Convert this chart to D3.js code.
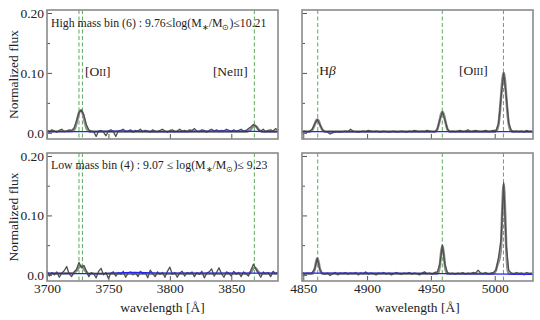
<!DOCTYPE html>
<html><head><meta charset="utf-8">
<script src="https://cdn.jsdelivr.net/npm/d3@7"></script>
<style>
body{margin:0;background:#fff}
svg{display:block}
</style>
</head><body>
<svg id="chart" width="540" height="320"></svg>
<script>
// ---------------- DATA ----------------
// wavelength sampling of the spectra (Angstrom)
const blueStart = 3700, blueEnd = 3888, redStart = 4849, redEnd = 5029, stepA = 2;
const blueDomain = [3700, 3888];
const redDomain = [4849, 5030];
const fluxDomain = [-0.0103, 0.205];
const blueTicks = [3700, 3750, 3800, 3850];
const redTicks = [4850, 4900, 4950, 5000];
const fluxTicks = [0.0, 0.10, 0.20];
const fluxTickLabels = ["0.0", "0.10", "0.20"];
const fluxMinorTicks = [0.05, 0.15];

// emission line rest wavelengths
const blueLines = [3726.03, 3728.82, 3868.76];
const redLines = [4861.33, 4958.91, 5006.84];
const lineLabelsBlue = [{w: 3731, main: ["[O", "II", "]"]}, {w: 3835, main: ["[Ne", "III", "]"]}];
const lineLabelsRed = [{w: 4862.5, main: ["H", "β", ""]}, {w: 4972, main: ["[O", "III", "]"]}];

// High mass bin (6), blue side: observed stack, lambda = 3700 + 2i
const fluxHighBlue = [
 0.004, 0.002, 0.005, 0.003, 0.001, 0.004, 0.006, 0.002, 0.003, 0.005,
 0.004, 0.008, 0.020, 0.034, 0.038, 0.030, 0.014, 0.005, 0.003, 0.002,
 -0.006, 0.003, 0.004, 0.001, -0.005, 0.003, 0.005, 0.002, -0.006, 0.003,
 0.004, 0.006, 0.002, 0.003, 0.005, 0.001, 0.004, 0.003, 0.006, 0.002,
 0.004, 0.003, 0.001, 0.005, 0.003, 0.002, 0.004, 0.006, 0.003, 0.001,
 0.004, 0.005, 0.002, 0.003, 0.006, 0.003, 0.004, 0.002, 0.005, 0.004,
 0.007, 0.003, 0.002, 0.005, 0.004, 0.001, 0.004, 0.006, 0.003, 0.005,
 0.002, 0.004, 0.003, 0.006, 0.004, 0.002, 0.005, 0.003, 0.004, 0.006,
 0.003, 0.004, 0.007, 0.010, 0.014, 0.011, 0.005, 0.003, 0.006, 0.002,
 0.004, 0.005, 0.003, 0.007, 0.004
];
// High mass bin (6), red side: lambda = 4849 + 2i
const fluxHighRed = [
 0.002, 0.003, 0.001, 0.003, 0.006, 0.015, 0.022, 0.014, 0.005, 0.002,
 0.001, -0.002, 0.000, 0.001, 0.002, 0.001, 0.002, 0.003, 0.002, 0.006,
 0.003, 0.002, 0.001, 0.002, 0.003, 0.002, 0.004, 0.003, 0.002, 0.003,
 0.002, 0.001, 0.003, 0.002, 0.001, 0.002, 0.003, 0.001, 0.002, 0.003,
 0.002, 0.001, 0.003, 0.002, 0.004, 0.003, 0.002, 0.003, 0.002, 0.004,
 0.003, 0.002, 0.002, 0.006, 0.022, 0.035, 0.022, 0.006, 0.002, 0.003,
 0.002, 0.003, 0.004, 0.002, 0.003, 0.005, 0.002, 0.003, 0.004, 0.003,
 0.002, 0.003, 0.004, 0.002, 0.003, 0.004, 0.004, 0.015, 0.060, 0.100,
 0.062, 0.016, 0.004, 0.002, 0.003, 0.002, 0.003, 0.001, 0.004, 0.002,
 0.003
];
// Low mass bin (4), blue side
const fluxLowBlue = [
 0.006, -0.002, 0.004, 0.000, 0.005, -0.004, 0.003, 0.007, 0.014, 0.002,
 -0.003, 0.005, 0.009, 0.021, 0.012, 0.016, 0.007, -0.003, 0.004, 0.002,
 -0.005, 0.006, 0.011, 0.000, 0.004, -0.006, 0.003, 0.005, -0.002, 0.004,
 0.001, 0.006, -0.004, 0.003, 0.005, 0.000, 0.004, -0.003, 0.006, 0.002,
 0.004, -0.005, 0.008, 0.002, -0.003, 0.005, 0.001, 0.004, -0.004, 0.006,
 0.013, 0.001, 0.004, -0.004, 0.003, 0.006, -0.002, 0.004, 0.002, 0.005,
 -0.003, 0.004, 0.001, 0.006, -0.005, 0.003, 0.005, 0.010, -0.002, 0.004,
 0.012, 0.002, -0.004, 0.005, 0.003, -0.002, 0.006, 0.001, 0.004, -0.003,
 0.005, 0.002, -0.002, 0.008, 0.018, 0.010, 0.003, -0.004, 0.005, 0.002,
 0.004, -0.003, 0.006, 0.002, 0.005
];
// Low mass bin (4), red side
const fluxLowRed = [
 0.004, 0.001, 0.003, 0.002, 0.004, 0.010, 0.028, 0.009, 0.003, 0.001,
 0.003, -0.001, 0.002, 0.004, 0.000, 0.003, 0.002, 0.004, 0.001, 0.003,
 0.002, 0.004, 0.000, 0.003, 0.002, 0.005, 0.001, 0.003, 0.002, 0.000,
 0.003, 0.002, 0.004, 0.001, 0.003, 0.000, 0.002, 0.004, 0.002, 0.001,
 0.003, 0.002, 0.004, 0.001, 0.003, 0.002, 0.000, 0.003, 0.005, 0.002,
 0.003, 0.001, 0.004, 0.005, 0.018, 0.050, 0.017, 0.004, 0.002, 0.003,
 0.001, 0.003, 0.002, 0.004, 0.001, 0.003, 0.002, 0.004, 0.003, 0.008,
 0.003, 0.002, 0.004, 0.001, 0.003, 0.004, 0.008, 0.030, 0.060, 0.155,
 0.050, 0.008, 0.003, 0.001, 0.004, 0.002, 0.003, 0.000, 0.004, 0.002,
 0.003
];

// Line-fit models [wavelength, flux]
const fitHighBlue = [[3700,0.002],[3721,0.003],[3722,0.005],[3723,0.009],[3724,0.016],[3725,0.025],[3726,0.033],[3727,0.037],[3728,0.037],[3729,0.033],[3730,0.025],[3731,0.016],[3732,0.009],[3733,0.005],[3734,0.003],[3735,0.002],
 [3863,0.002],[3864,0.003],[3865,0.004],[3866,0.006],[3867,0.009],[3868,0.011],[3869,0.012],[3870,0.011],[3871,0.009],[3872,0.006],[3873,0.004],[3874,0.003],[3875,0.002],[3888,0.002]];
const fitHighRed = [[4849,0.002],[4855,0.002],[4856,0.003],[4857,0.005],[4858,0.009],[4859,0.014],[4860,0.020],[4861,0.022],[4862,0.020],[4863,0.014],[4864,0.009],[4865,0.005],[4866,0.003],[4867,0.002],
 [4953,0.002],[4954,0.003],[4955,0.006],[4956,0.013],[4957,0.022],[4958,0.031],[4959,0.035],[4960,0.031],[4961,0.022],[4962,0.013],[4963,0.006],[4964,0.003],[4965,0.002],
 [5000,0.002],[5001,0.003],[5002,0.006],[5003,0.015],[5004,0.034],[5005,0.061],[5006,0.088],[5007,0.100],[5008,0.088],[5009,0.061],[5010,0.034],[5011,0.015],[5012,0.006],[5013,0.003],[5014,0.002],[5030,0.002]];
const fitLowBlue = [[3700,0.002],[3722,0.003],[3723,0.005],[3724,0.007],[3725,0.010],[3726,0.013],[3727,0.015],[3728,0.015],[3729,0.013],[3730,0.010],[3731,0.007],[3732,0.005],[3733,0.003],[3734,0.002],
 [3864,0.002],[3865,0.003],[3866,0.005],[3867,0.008],[3868,0.011],[3869,0.012],[3870,0.011],[3871,0.008],[3872,0.005],[3873,0.003],[3874,0.002],[3888,0.002]];
const fitLowRed = [[4849,0.002],[4857,0.002],[4858,0.004],[4859,0.010],[4860,0.021],[4861,0.028],[4862,0.021],[4863,0.010],[4864,0.004],[4865,0.002],
 [4955,0.002],[4956,0.005],[4957,0.016],[4958,0.037],[4959,0.049],[4960,0.037],[4961,0.016],[4962,0.005],[4963,0.002],
 [4999,0.002],[5000,0.004],[5001,0.008],[5002,0.016],[5003,0.022],[5004,0.030],[5005,0.050],[5006,0.113],[5007,0.152],[5008,0.113],[5009,0.048],[5010,0.012],[5011,0.003],[5012,0.002],[5030,0.002]];

// Continuum models [wavelength, flux]
const contHighBlue = [[3700,0.002],[3730,0.002],[3760,0.003],[3800,0.002],[3840,0.003],[3888,0.002]];
const contHighRed = [[4849,0.002],[4900,0.002],[4950,0.002],[5000,0.002],[5030,0.002]];
const contLowBlue = [[3700,0.003],[3740,0.002],[3770,0.004],[3800,0.003],[3850,0.003],[3888,0.003]];
const contLowRed = [[4849,0.003],[4900,0.003],[4960,0.002],[5030,0.001]];

const binTexts = [
  ["High mass bin (6) : 9.76≤log(M", "∗", "/M", "⊙", ")≤10.21"],
  ["Low mass bin (4) : 9.07 ≤ log(M", "∗", "/M", "⊙", ")≤ 9.23"]
];

// ---------------- LAYOUT ----------------
const FONT = '"Liberation Serif", "Times New Roman", serif';
const svg = d3.select("#chart");
const colX = [[47, 278], [302, 533]];
const rowY = [[10, 139], [153, 281]];

const panels = [
  {r:0,c:0, grid:d3.range(blueStart, blueEnd+1, stepA), flux:fluxHighBlue, fit:fitHighBlue, cont:contHighBlue, dom:blueDomain, ticks:blueTicks, lines:blueLines, labels:lineLabelsBlue},
  {r:0,c:1, grid:d3.range(redStart, redEnd+1, stepA), flux:fluxHighRed, fit:fitHighRed, cont:contHighRed, dom:redDomain, ticks:redTicks, lines:redLines, labels:lineLabelsRed},
  {r:1,c:0, grid:d3.range(blueStart, blueEnd+1, stepA), flux:fluxLowBlue, fit:fitLowBlue, cont:contLowBlue, dom:blueDomain, ticks:blueTicks, lines:blueLines, labels:null},
  {r:1,c:1, grid:d3.range(redStart, redEnd+1, stepA), flux:fluxLowRed, fit:fitLowRed, cont:contLowRed, dom:redDomain, ticks:redTicks, lines:redLines, labels:null}
];

const defs = svg.append("defs");

panels.forEach((p, i) => {
  const [x0, x1] = colX[p.c], [y0, y1] = rowY[p.r];
  const x = d3.scaleLinear().domain(p.dom).range([x0, x1]);
  const y = d3.scaleLinear().domain(fluxDomain).range([y1, y0]);
  const g = svg.append("g");
  defs.append("clipPath").attr("id", "clip" + i).append("rect")
    .attr("x", x0).attr("y", y0).attr("width", x1 - x0).attr("height", y1 - y0);
  const inner = g.append("g").attr("clip-path", `url(#clip${i})`);

  // dashed emission-line markers
  inner.selectAll("line.em").data(p.lines).join("line")
    .attr("x1", d => x(d)).attr("x2", d => x(d)).attr("y1", y0).attr("y2", y1)
    .attr("stroke", "#5aab5a").attr("stroke-width", 1).attr("stroke-dasharray", "4,2.5");

  // fit model
  inner.append("path").datum(p.fit)
    .attr("d", d3.line().x(d => x(d[0])).y(d => y(d[1])).curve(d3.curveMonotoneX))
    .attr("fill", "none").attr("stroke", "#8d8d8d").attr("stroke-width", 2.6);
  // observed spectrum
  const spec = p.grid.map((w, k) => [w, p.flux[k]]);
  inner.append("path").datum(spec).attr("d", d3.line().x(d => x(d[0])).y(d => y(d[1])))
    .attr("fill", "none").attr("stroke", "#4f4f4f").attr("stroke-width", 1.3).attr("stroke-linejoin", "round");
  // continuum
  inner.append("path").datum(p.cont)
    .attr("d", d3.line().x(d => x(d[0])).y(d => y(d[1])).curve(d3.curveMonotoneX))
    .attr("fill", "none").attr("stroke", "#2424ee").attr("stroke-width", 1.3);

  // axes
  const xa = d3.axisBottom(x).tickValues(p.ticks).tickSizeInner(-5).tickSizeOuter(0).tickPadding(2.5)
    .tickFormat(p.r === 1 ? d3.format("d") : () => "");
  const gx = g.append("g").attr("transform", `translate(0,${y1})`).call(xa);
  const ya = d3.axisLeft(y).tickValues(fluxTicks).tickSizeInner(-5).tickSizeOuter(0).tickPadding(3)
    .tickFormat((d, k) => p.c === 0 ? fluxTickLabels[k] : "");
  const gy = g.append("g").attr("transform", `translate(${x0},0)`).call(ya);
  const ym = d3.axisLeft(y).tickValues(fluxMinorTicks).tickSizeInner(-3).tickSizeOuter(0).tickFormat(() => "");
  const gym = g.append("g").attr("transform", `translate(${x0},0)`).call(ym);
  [gx, gy, gym].forEach(a => {
    a.select(".domain").remove();
    a.selectAll(".tick line").attr("stroke", "#555").attr("stroke-width", 1);
    a.selectAll(".tick text").style("font-family", FONT).style("font-size", "13.5px").attr("fill", "#222");
  });

  // frame
  g.append("rect").attr("x", x0).attr("y", y0).attr("width", x1 - x0).attr("height", y1 - y0)
    .attr("fill", "none").attr("stroke", "#8a8a8a").attr("stroke-width", 1.6);

  // line labels
  if (p.labels) {
    p.labels.forEach(L => {
      const t = g.append("text").attr("x", x(L.w)).attr("y", p.c === 0 ? 76 : 75)
        .style("font-family", FONT).style("font-size", "13.5px").attr("fill", "#222");
      t.append("tspan").text(L.main[0]);
      if (L.main[1] === "β") t.append("tspan").style("font-style", "italic").text("β");
      else t.append("tspan").style("font-size", "10px").text(L.main[1]);
      t.append("tspan").text(L.main[2]);
    });
  }

  // bin annotation
  if (p.c === 0) {
    const parts = binTexts[p.r];
    const t = g.append("text").attr("x", x0 + 4).attr("y", p.r === 0 ? 27 : 169)
      .style("font-family", FONT).style("font-size", "11.8px").attr("fill", "#222");
    t.append("tspan").text(parts[0]);
    t.append("tspan").style("font-size", "8px").attr("dy", 2.5).text(parts[1]);
    t.append("tspan").attr("dy", -2.5).text(parts[2]);
    t.append("tspan").style("font-size", "8px").attr("dy", 2.5).text(parts[3]);
    t.append("tspan").attr("dy", -2.5).text(parts[4]);
  }

  // y label
  if (p.c === 0) {
    svg.append("text").attr("transform", `translate(18,${(y0 + y1) / 2}) rotate(-90)`)
      .attr("text-anchor", "middle").style("font-family", FONT).style("font-size", "13.5px")
      .attr("fill", "#222").text("Normalized flux");
  }
  // x label
  if (p.r === 1) {
    svg.append("text").attr("x", (x0 + x1) / 2).attr("y", 312).attr("text-anchor", "middle")
      .style("font-family", FONT).style("font-size", "13.5px").attr("fill", "#222").text("wavelength [Å]");
  }
});
</script>
</body></html>
